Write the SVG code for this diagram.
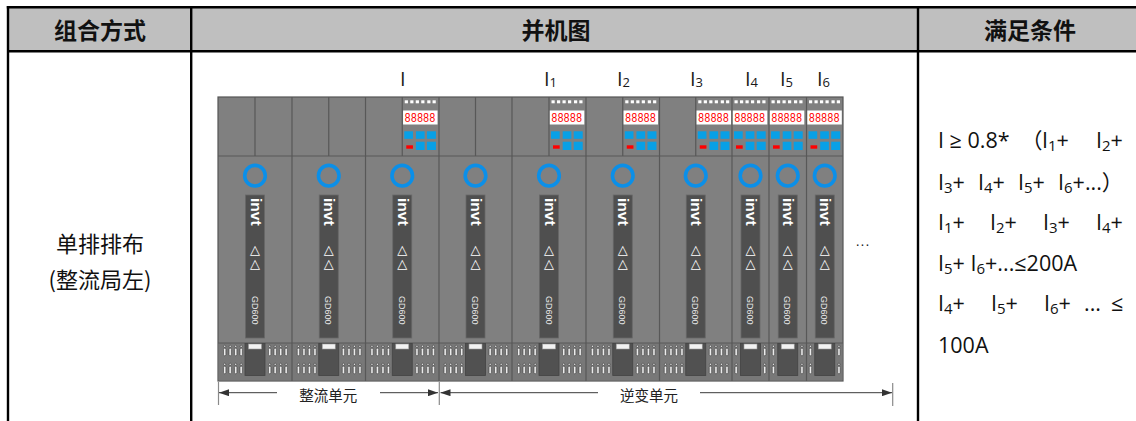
<svg xmlns="http://www.w3.org/2000/svg" xmlns:xlink="http://www.w3.org/1999/xlink" width="1136" height="421" viewBox="0 0 1136 421">
<style>
.hdr{font-family:"Noto Sans CJK SC","Open Sans",sans-serif;font-weight:700;font-size:23px;fill:#111;text-anchor:middle}
.cell{font-family:"Noto Sans CJK SC","Open Sans",sans-serif;font-size:22px;fill:#111;text-anchor:middle}
.f{font-family:"Open Sans","Noto Sans CJK SC",sans-serif;font-size:21.5px;fill:#111}
.s{font-size:15px}
.lbl{font-family:"Open Sans",sans-serif;font-size:20px;fill:#1a1a1a}
.ls{font-size:13px}
.tl{stroke:#000;stroke-width:2.4;fill:none}
.div{stroke:#585858;stroke-width:1.2;fill:none}
.invt{font-family:"Liberation Sans",Arial,sans-serif;font-weight:700;font-size:15.5px;fill:#fff}
.gd{font-family:"Liberation Sans",Arial,sans-serif;font-size:9px;fill:#e6e6e6}
.tri{font-family:"DejaVu Sans",sans-serif;font-size:13px;fill:#fff;text-anchor:middle}
.seg{font-family:"Liberation Mono","DejaVu Sans Mono",monospace;font-size:12px;fill:#f00}
.dim{font-family:"Noto Sans CJK SC",sans-serif;font-size:14.5px;fill:#222;text-anchor:middle}
.tick{stroke:#8a8a8a;stroke-width:1.2}
.arr{stroke:#3a3a3a;stroke-width:1;fill:none;marker-end:url(#ah)}
.blue{fill:#08a0e6}
.pinc{fill:#ececec;stroke:#3a3a3a;stroke-width:0.6}
</style>
<defs>
<marker id="ah" markerWidth="10" markerHeight="7" refX="10" refY="3.5" orient="auto" markerUnits="userSpaceOnUse">
<path d="M0,0 L10,3.5 L0,7 z" fill="#333"/>
</marker>
<g id="strip">
<circle cx="0" cy="175.7" r="10.3" fill="none" stroke="#0b8fe8" stroke-width="3.6"/>
<rect x="-9.5" y="195" width="19" height="143" fill="#4f4f4f" stroke="#686868" stroke-width="0.8"/>
<rect x="-10" y="343.5" width="20" height="32" fill="#515151" stroke="#444" stroke-width="0.8"/>
<rect x="-6.5" y="344" width="13" height="5" fill="#f2f2f2" stroke="#999" stroke-width="0.6"/>
</g>
<g id="pin" class="pinc">
<circle cx="1.2" cy="1.3" r="1.1"/>
<rect x="0" y="3.2" width="2.4" height="7.5" rx="1"/>
</g>
<g id="pp"><use xlink:href="#pin" y="345"/><use xlink:href="#pin" y="363"/></g>
<g id="pw">
<use xlink:href="#pp" x="-31.5"/><use xlink:href="#pp" x="-26"/><use xlink:href="#pp" x="-20.5"/><use xlink:href="#pp" x="-15"/>
<use xlink:href="#pp" x="13.5"/><use xlink:href="#pp" x="19"/><use xlink:href="#pp" x="24.5"/><use xlink:href="#pp" x="30"/>
</g>
<g id="pn"><use xlink:href="#pp" x="-15.5"/><use xlink:href="#pp" x="13"/></g>
<g id="panel">
<g fill="#fff">
<rect x="2.5" y="100.3" width="3.2" height="3"/><rect x="8" y="100.3" width="3.2" height="3"/><rect x="13.5" y="100.3" width="3.2" height="3"/>
<rect x="19" y="100.3" width="3.2" height="3"/><rect x="25" y="100.3" width="3.2" height="3"/><rect x="30.3" y="100.3" width="3.2" height="3"/>
<rect x="0.8" y="110.5" width="34.5" height="14"/>
</g>
<rect class="blue" x="2" y="131.3" width="8.7" height="7.5"/>
<rect class="blue" x="13.7" y="131.3" width="8.7" height="7.5"/>
<rect class="blue" x="24.7" y="131.3" width="9" height="7.5"/>
<rect class="blue" x="13.7" y="141.7" width="8.7" height="8.3"/>
<rect class="blue" x="24.7" y="141.7" width="9" height="8.3"/>
<rect x="4" y="145.3" width="6.7" height="3.4" fill="#f00"/>
</g>
</defs>

<g id="table">
<rect x="8" y="7" width="1128" height="44" fill="#bfbfbf"/>
<line class="tl" x1="6.8" y1="7.3" x2="1136" y2="7.3"/>
<line class="tl" x1="8" y1="51.2" x2="1136" y2="51.2"/>
<line class="tl" x1="8" y1="6" x2="8" y2="421"/>
<line class="tl" x1="191.2" y1="7" x2="191.2" y2="421"/>
<line class="tl" x1="918" y1="7" x2="918" y2="421"/>
<text class="hdr" x="100" y="38.5">组合方式</text>
<text class="hdr" x="556" y="38.5">并机图</text>
<text class="hdr" x="1030" y="38.5">满足条件</text>
<text class="cell" x="100" y="252">单排排布</text>
<text class="cell" x="100" y="288">(整流局左)</text>
</g>

<g id="rack">
<rect x="218" y="97" width="625" height="284" fill="#808080" stroke="#555" stroke-width="1.2"/>
<rect x="218.6" y="343" width="623.8" height="37.4" fill="#787878"/>
<line class="div" x1="218" y1="156" x2="843" y2="156"/>
<line class="div" x1="218" y1="343" x2="843" y2="343"/>
</g>

<g id="m1">
<line class="div" x1="255" y1="97" x2="255" y2="156"/>
<line class="div" x1="292" y1="97" x2="292" y2="381"/>
<use xlink:href="#strip" x="255"/><use xlink:href="#pw" x="255"/>
<text class="invt" transform="translate(250.5,198) rotate(90)">invt</text>
<text class="tri" x="255" y="254">△</text><text class="tri" x="255" y="267.5">△</text>
<text class="gd" transform="translate(251.6,296) rotate(90)">GD600</text>
</g>
<g id="m2">
<line class="div" x1="328.75" y1="97" x2="328.75" y2="156"/>
<line class="div" x1="365.5" y1="97" x2="365.5" y2="381"/>
<use xlink:href="#strip" x="328.75"/><use xlink:href="#pw" x="328.75"/>
<text class="invt" transform="translate(324.25,198) rotate(90)">invt</text>
<text class="tri" x="328.75" y="254">△</text><text class="tri" x="328.75" y="267.5">△</text>
<text class="gd" transform="translate(325.35,296) rotate(90)">GD600</text>
</g>
<g id="m3">
<line class="div" x1="402.25" y1="97" x2="402.25" y2="156"/>
<line class="div" x1="439" y1="97" x2="439" y2="381"/>
<use xlink:href="#panel" x="402.25"/>
<text class="seg" x="404.5" y="122.3" textLength="31" lengthAdjust="spacingAndGlyphs">88888</text>
<use xlink:href="#strip" x="402.25"/><use xlink:href="#pw" x="402.25"/>
<text class="invt" transform="translate(397.75,198) rotate(90)">invt</text>
<text class="tri" x="402.25" y="254">△</text><text class="tri" x="402.25" y="267.5">△</text>
<text class="gd" transform="translate(398.85,296) rotate(90)">GD600</text>
</g>
<g id="m4">
<line class="div" x1="475.5" y1="97" x2="475.5" y2="156"/>
<line class="div" x1="512" y1="97" x2="512" y2="381"/>
<use xlink:href="#strip" x="475.5"/><use xlink:href="#pw" x="475.5"/>
<text class="invt" transform="translate(471,198) rotate(90)">invt</text>
<text class="tri" x="475.5" y="254">△</text><text class="tri" x="475.5" y="267.5">△</text>
<text class="gd" transform="translate(472.1,296) rotate(90)">GD600</text>
</g>
<g id="m5">
<line class="div" x1="549" y1="97" x2="549" y2="156"/>
<line class="div" x1="586" y1="97" x2="586" y2="381"/>
<use xlink:href="#panel" x="549"/>
<text class="seg" x="551.2" y="122.3" textLength="31" lengthAdjust="spacingAndGlyphs">88888</text>
<use xlink:href="#strip" x="549"/><use xlink:href="#pw" x="549"/>
<text class="invt" transform="translate(544.5,198) rotate(90)">invt</text>
<text class="tri" x="549" y="254">△</text><text class="tri" x="549" y="267.5">△</text>
<text class="gd" transform="translate(545.6,296) rotate(90)">GD600</text>
</g>
<g id="m6">
<line class="div" x1="622.75" y1="97" x2="622.75" y2="156"/>
<line class="div" x1="659.5" y1="97" x2="659.5" y2="381"/>
<use xlink:href="#panel" x="622.75"/>
<text class="seg" x="625" y="122.3" textLength="31" lengthAdjust="spacingAndGlyphs">88888</text>
<use xlink:href="#strip" x="622.75"/><use xlink:href="#pw" x="622.75"/>
<text class="invt" transform="translate(618.25,198) rotate(90)">invt</text>
<text class="tri" x="622.75" y="254">△</text><text class="tri" x="622.75" y="267.5">△</text>
<text class="gd" transform="translate(619.35,296) rotate(90)">GD600</text>
</g>
<g id="m7">
<line class="div" x1="695.75" y1="97" x2="695.75" y2="156"/>
<line class="div" x1="732" y1="97" x2="732" y2="381"/>
<use xlink:href="#panel" x="695.75"/>
<text class="seg" x="698" y="122.3" textLength="31" lengthAdjust="spacingAndGlyphs">88888</text>
<use xlink:href="#strip" x="695.75"/><use xlink:href="#pw" x="695.75"/>
<text class="invt" transform="translate(691.25,198) rotate(90)">invt</text>
<text class="tri" x="695.75" y="254">△</text><text class="tri" x="695.75" y="267.5">△</text>
<text class="gd" transform="translate(692.35,296) rotate(90)">GD600</text>
</g>
<g id="m8">
<line class="div" x1="769" y1="97" x2="769" y2="381"/>
<use xlink:href="#panel" x="732"/>
<text class="seg" x="734.2" y="122.3" textLength="31" lengthAdjust="spacingAndGlyphs">88888</text>
<use xlink:href="#strip" x="750.5"/><use xlink:href="#pn" x="750.5"/>
<text class="invt" transform="translate(746,198) rotate(90)">invt</text>
<text class="tri" x="750.5" y="254">△</text><text class="tri" x="750.5" y="267.5">△</text>
<text class="gd" transform="translate(747.1,296) rotate(90)">GD600</text>
</g>
<g id="m9">
<line class="div" x1="806.5" y1="97" x2="806.5" y2="381"/>
<use xlink:href="#panel" x="769"/>
<text class="seg" x="771.2" y="122.3" textLength="31" lengthAdjust="spacingAndGlyphs">88888</text>
<use xlink:href="#strip" x="787.75"/><use xlink:href="#pn" x="787.75"/>
<text class="invt" transform="translate(783.25,198) rotate(90)">invt</text>
<text class="tri" x="787.75" y="254">△</text><text class="tri" x="787.75" y="267.5">△</text>
<text class="gd" transform="translate(784.35,296) rotate(90)">GD600</text>
</g>
<g id="m10">
<use xlink:href="#panel" x="806.5"/>
<text class="seg" x="808.7" y="122.3" textLength="31" lengthAdjust="spacingAndGlyphs">88888</text>
<use xlink:href="#strip" x="824.75"/><use xlink:href="#pn" x="824.75"/>
<text class="invt" transform="translate(820.25,198) rotate(90)">invt</text>
<text class="tri" x="824.75" y="254">△</text><text class="tri" x="824.75" y="267.5">△</text>
<text class="gd" transform="translate(821.35,296) rotate(90)">GD600</text>
</g>
<text id="more" x="863" y="246" font-family="Liberation Sans,sans-serif" font-size="14" fill="#222" text-anchor="middle" letter-spacing="1">...</text>

<g id="labels" class="lbl">
<text x="400" y="86">I</text>
<text x="544" y="86">I<tspan class="ls" dy="1">1</tspan></text>
<text x="617" y="86">I<tspan class="ls" dy="1">2</tspan></text>
<text x="690" y="86">I<tspan class="ls" dy="1">3</tspan></text>
<text x="745" y="86">I<tspan class="ls" dy="1">4</tspan></text>
<text x="780" y="86">I<tspan class="ls" dy="1">5</tspan></text>
<text x="817" y="86">I<tspan class="ls" dy="1">6</tspan></text>
</g>

<g id="connectors">
<line class="tick" x1="218.5" y1="382" x2="218.5" y2="405"/>
<line class="tick" x1="439.3" y1="382" x2="439.3" y2="405"/>
<line class="tick" x1="892.7" y1="383" x2="892.7" y2="406"/>
<line class="arr" x1="277" y1="392.7" x2="219" y2="392.7"/>
<line class="arr" x1="380" y1="392.7" x2="438" y2="392.7"/>
<line class="arr" x1="598" y1="392.7" x2="440.5" y2="392.7"/>
<line class="arr" x1="700" y1="392.7" x2="892" y2="392.7"/>
<text class="dim" x="328.3" y="401">整流单元</text>
<text class="dim" x="649" y="401">逆变单元</text>
</g>

<g id="conditions" class="f">
<text y="147.5"><tspan x="938">I ≥ 0.8*</tspan><tspan x="1021">（</tspan><tspan x="1042">I</tspan><tspan class="s" dy="3">1</tspan><tspan dy="-3">+</tspan><tspan x="1096">I</tspan><tspan class="s" dy="3">2</tspan><tspan dy="-3">+</tspan></text>
<text y="189.5"><tspan x="938">I</tspan><tspan class="s" dy="3">3</tspan><tspan dy="-3">+</tspan><tspan x="978">I</tspan><tspan class="s" dy="3">4</tspan><tspan dy="-3">+</tspan><tspan x="1018">I</tspan><tspan class="s" dy="3">5</tspan><tspan dy="-3">+</tspan><tspan x="1058">I</tspan><tspan class="s" dy="3">6</tspan><tspan dy="-3">+...）</tspan></text>
<text y="229.5"><tspan x="938">I</tspan><tspan class="s" dy="3">1</tspan><tspan dy="-3">+</tspan><tspan x="990">I</tspan><tspan class="s" dy="3">2</tspan><tspan dy="-3">+</tspan><tspan x="1043">I</tspan><tspan class="s" dy="3">3</tspan><tspan dy="-3">+</tspan><tspan x="1096">I</tspan><tspan class="s" dy="3">4</tspan><tspan dy="-3">+</tspan></text>
<text y="270.5"><tspan x="938">I</tspan><tspan class="s" dy="3">5</tspan><tspan dy="-3">+ I</tspan><tspan class="s" dy="3">6</tspan><tspan dy="-3">+...≤200A</tspan></text>
<text y="310.5"><tspan x="938">I</tspan><tspan class="s" dy="3">4</tspan><tspan dy="-3">+</tspan><tspan x="991">I</tspan><tspan class="s" dy="3">5</tspan><tspan dy="-3">+</tspan><tspan x="1044">I</tspan><tspan class="s" dy="3">6</tspan><tspan dy="-3">+</tspan><tspan x="1084">...</tspan><tspan x="1111">≤</tspan></text>
<text x="938" y="352.5">100A</text>
</g>
</svg>
